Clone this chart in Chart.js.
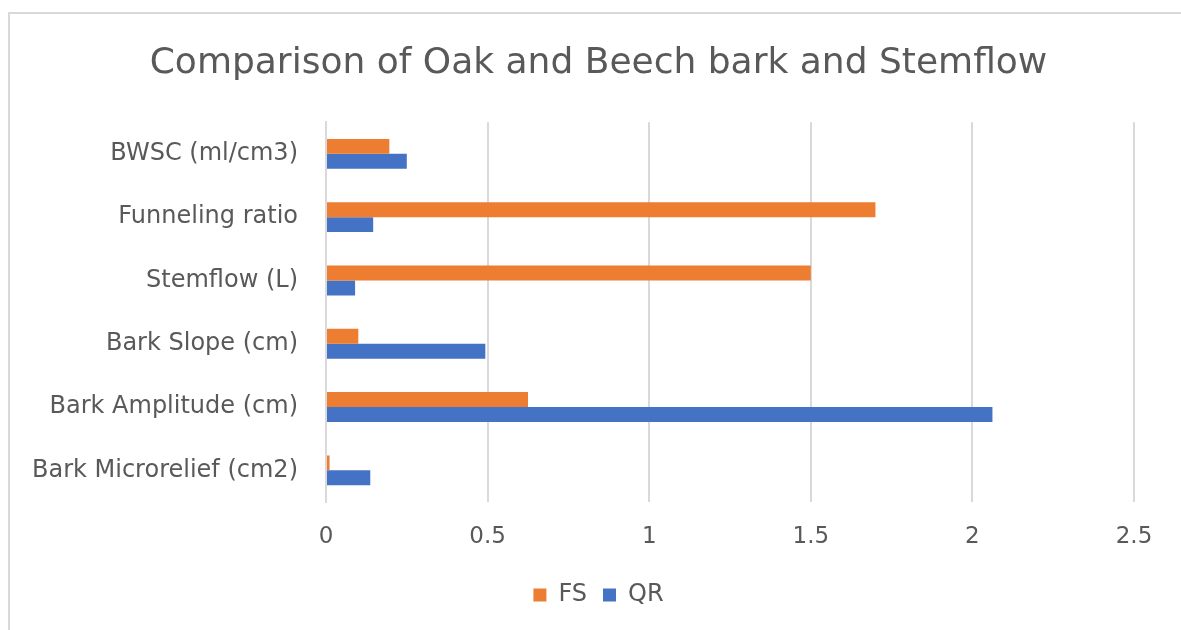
<!DOCTYPE html>
<html>
<head>
<meta charset="utf-8">
<script src="https://cdn.jsdelivr.net/npm/chart.js@4"></script>
<style>
  html, body { margin: 0; padding: 0; background: #fff; }
  #frame {
    position: absolute; left: 8px; top: 12px; width: 1300px; height: 700px;
    border-top: 2px solid #d9d9d9; border-left: 2px solid #d9d9d9;
  }
  #wrap { position: absolute; left: 0; top: 0; width: 1181px; height: 630px; }
</style>
</head>
<body>
<div id="frame"></div>
<div id="wrap"><canvas id="barChart"></canvas></div>
<script>
var categories = [
  'BWSC (ml/cm3)',
  'Funneling ratio',
  'Stemflow (L)',
  'Bark Slope (cm)',
  'Bark Amplitude (cm)',
  'Bark Microrelief (cm2)'
];
var fsValues = [0.196, 1.70, 1.50, 0.10, 0.625, 0.011];
var qrValues = [0.25, 0.146, 0.09, 0.493, 2.062, 0.137];
var xTicks = [0, 0.5, 1, 1.5, 2, 2.5];

var textColor = '#595959';
var gridColor = '#d9d9d9';
var fontFamily = "'DejaVu Sans', sans-serif";

// long category names run past the left padding, so widen the label clip box
var unclipLabels = {
  id: 'unclipLabels',
  afterLayout: (chart) => { chart.scales.y.left = 0; }
};

new Chart(document.getElementById('barChart'), {
  type: 'bar',
  data: {
    labels: categories,
    datasets: [{
      label: 'FS',
      data: fsValues,
      backgroundColor: '#ED7D31'
    }, {
      label: 'QR',
      data: qrValues,
      backgroundColor: '#4472C4'
    }]
  },
  plugins: [unclipLabels],
  options: {
    indexAxis: 'y',
    responsive: true,
    maintainAspectRatio: false,
    animation: false,
    datasets: {
      bar: { barPercentage: 1, categoryPercentage: 0.472 }
    },
    layout: { padding: { left: 63, right: 47, top: 0, bottom: 13 } },
    plugins: {
      title: {
        display: true,
        text: 'Comparison of Oak and Beech bark and Stemflow',
        color: textColor,
        font: { family: fontFamily, size: 36, weight: 'normal' },
        padding: { top: 42, bottom: 37 }
      },
      legend: {
        position: 'bottom',
        labels: {
          color: textColor,
          font: { family: fontFamily, size: 24 },
          boxWidth: 13,
          boxHeight: 13,
          padding: 16
        }
      },
      tooltip: { enabled: false }
    },
    scales: {
      x: {
        type: 'linear',
        min: 0,
        max: 2.5,
        afterBuildTicks: (scale) => {
          scale.ticks = xTicks.map((v) => ({ value: v }));
        },
        afterFit: (scale) => { scale.height = 65; },
        grid: { color: gridColor, lineWidth: 2, drawTicks: false },
        border: { display: false },
        ticks: {
          color: textColor,
          font: { family: fontFamily, size: 23 },
          padding: 21,
          callback: (value) => value
        }
      },
      y: {
        afterFit: (scale) => { scale.width = 263; },
        grid: { display: false, drawTicks: false },
        border: { display: true, color: gridColor, width: 2 },
        ticks: {
          color: textColor,
          font: { family: fontFamily, size: 24 },
          padding: 28
        }
      }
    }
  }
});
</script>
</body>
</html>
